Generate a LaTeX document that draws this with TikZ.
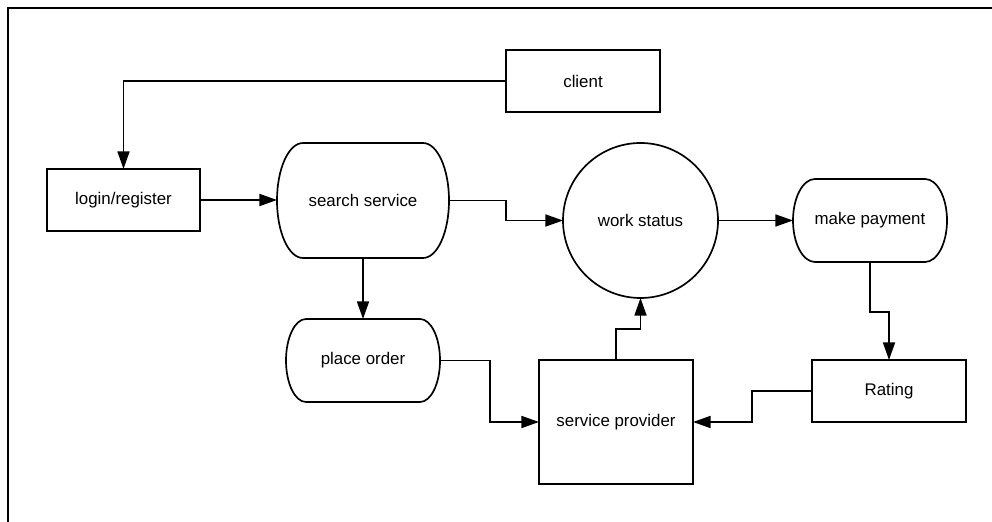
\documentclass[tikz,border=0pt]{standalone}
\usepackage{fontspec}
\setmainfont{Liberation Sans}
\usetikzlibrary{calc,arrows.meta}
\def\termbox(#1)(#2){\draw[line width=1.2pt] let \p1=(#1.north west), \p2=(#1.south east), \n1={(\y1-\y2)/2} in (\x1+#2,\y1) -- (\x2-#2,\y1) arc[start angle=90, end angle=-90, x radius=#2, y radius=\n1] -- (\x1+#2,\y2) arc[start angle=270, end angle=90, x radius=#2, y radius=\n1] -- cycle;}

\begin{document}
\begin{tikzpicture}[
		box/.style={draw, line width=1.2pt, rectangle, inner sep=0pt, outer sep=0pt, minimum width=3.85cm, minimum height=1.55cm},
		term/.style={rectangle, inner sep=0pt, outer sep=0pt, minimum width=3.85cm, minimum height=2.075cm},
		flow/.style={line width=1.2pt, -{Triangle[length=4.4mm, width=3mm]}},
		font=\fontsize{12}{14}\selectfont]
			%%%%% START %%%%%
			
			\useasboundingbox (0, 0) rectangle (24.8, 13.05);
			\draw[line width=1.5pt] (0.2, 0) -- (0.2, 12.85) -- (24.8, 12.85);
			
			\node[box] (client) at (14.575, 11.025) {client};
			\node[box, minimum width=3.825cm] (login) at (3.0875, 8.05) {login/register};
			
			\node[term, minimum width=4.3cm, minimum height=2.875cm] (search) at (9.075, 8.0375) {search service};
			\termbox(search)(0.65cm);
			
			\node[term] (order) at (9.075, 4.0375) {place order};
			\termbox(order)(0.5cm);
			
			\node[draw, circle, line width=1.2pt, inner sep=0pt, outer sep=0pt, minimum size=3.875cm] (status) at (16.0125, 7.5375) {work status};
			
			\node[term] (payment) at (21.75, 7.5375) {make payment};
			\termbox(payment)(0.55cm);
			
			\node[box, minimum height=3.1cm] (provider) at (15.4, 2.5) {service provider};
			\node[box] (rating) at (22.225, 3.275) {Rating};
			
			\draw[flow] (client.west) -| (login.north);
			\draw[flow] (login.east) -- (login.east -| search.west);
			\draw[flow] (search.east) -- ++(1.425, 0) |- (status.west);
			\draw[flow] (search.south) -- (order.north);
			\draw[flow] (order.east) -- ++(1.25, 0) |- (provider.west);
			\draw[flow] (provider.north) -- ++(0, 0.775) -| (status.south);
			\draw[flow] (status.east) -- (payment.west);
			\draw[flow] (payment.south) -- ++(0, -1.25) -| (rating.north);
			\draw[flow] (rating.west) -- ++(-1.5, 0) |- (provider.east);
			
			%%%%% END %%%%%
		\end{tikzpicture}
\end{document}
